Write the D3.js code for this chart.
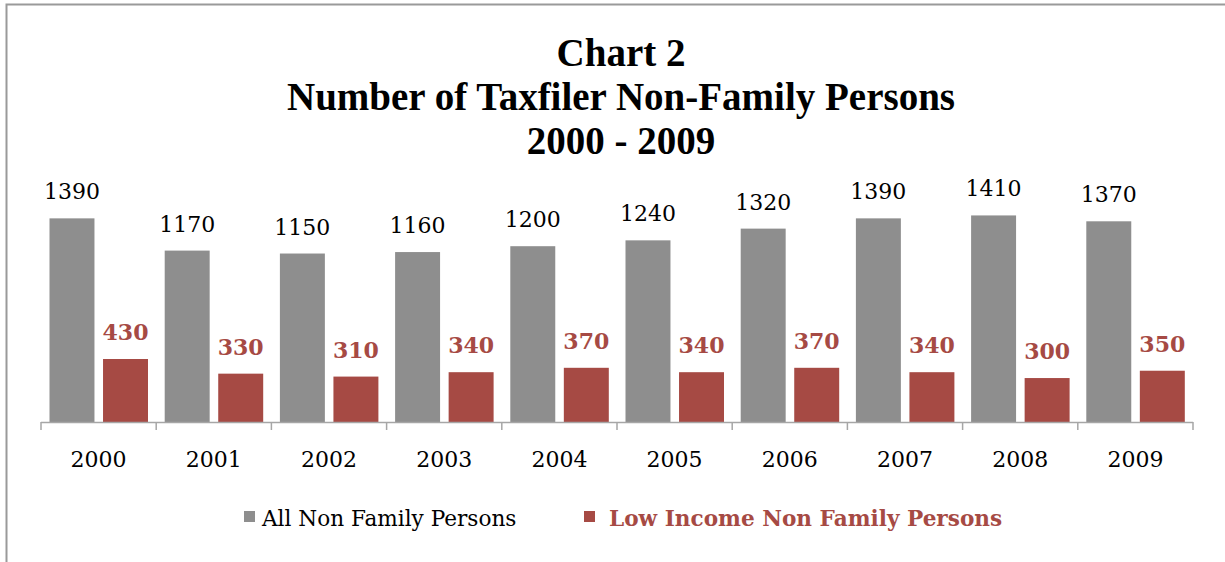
<!DOCTYPE html>
<html>
<head>
    <style>
        body { margin: 0; background: #fff; }
        .title { font: bold 39px "Liberation Serif", serif; text-anchor: middle; }
        .lbl { font: 22px "DejaVu Serif", serif; text-anchor: middle; }
        .axis text { font: 22px "DejaVu Serif", serif; fill: #000; }
        .legend text { font: 21.6px "DejaVu Serif", serif; }
    </style>
    <script src="https://d3js.org/d3.v7.min.js"></script>
</head>
<body>
    <svg width="1225" height="562"></svg>
    <script>
        var years = ["2000", "2001", "2002", "2003", "2004", "2005", "2006", "2007", "2008", "2009"];
        var allPersons = [1390, 1170, 1150, 1160, 1200, 1240, 1320, 1390, 1410, 1370];
        var lowIncome = [430, 330, 310, 340, 370, 340, 370, 340, 300, 350];
        var seriesNames = ["All Non Family Persons", "Low Income Non Family Persons"];
        var titleLines = ["Chart 2", "Number of Taxfiler Non-Family Persons", "2000 - 2009"];

        var colors = ["#8e8e8e", "#a64a44"];

        var svg = d3.select("svg");

        // chart frame
        svg.append("rect")
           .attr("x", 6.5).attr("y", 4.5)
           .attr("width", 1240).attr("height", 600)
           .attr("fill", "none").attr("stroke", "#9a9a9a").attr("stroke-width", 2);

        svg.selectAll(".title")
           .data(titleLines)
           .enter().append("text")
           .attr("class", "title")
           .attr("x", 621)
           .attr("y", function(d, i) { return 66 + i * 44; })
           .text(function(d) { return d; });

        var rows = years.map(function(y, i) {
            return { year: y, values: [allPersons[i], lowIncome[i]] };
        });

        var x0 = d3.scaleBand().domain(years).range([41, 1193]);
        var x1 = d3.scaleBand().domain([0, 1]).range([8.5, 107]).paddingInner(0.16);
        var y = d3.scaleLinear().domain([0, 1600]).range([422, 187.6]);

        var grp = svg.selectAll(".year")
                     .data(rows)
                     .enter().append("g")
                     .attr("class", "year")
                     .attr("transform", function(d) { return "translate(" + x0(d.year) + ",0)"; });

        var cells = grp.selectAll(".cell")
                       .data(function(d) { return d.values; })
                       .enter().append("g");

        cells.append("rect")
             .attr("x", function(d, i) { return x1(i); })
             .attr("y", function(d) { return y(d); })
             .attr("width", x1.bandwidth())
             .attr("height", function(d) { return y(0) - y(d); })
             .attr("fill", function(d, i) { return colors[i]; });

        cells.append("text")
             .attr("class", "lbl")
             .attr("x", function(d, i) { return x1(i) + x1.bandwidth() / 2; })
             .attr("y", function(d) { return y(d) - 19; })
             .attr("fill", function(d, i) { return i ? colors[1] : "#000"; })
             .style("font-weight", function(d, i) { return i ? "bold" : "normal"; })
             .text(function(d) { return d; });

        // category axis with ticks between bands
        var axis = svg.append("g").attr("class", "axis");
        axis.append("line")
            .attr("x1", 41).attr("x2", 1193)
            .attr("y1", 422.5).attr("y2", 422.5)
            .attr("stroke", "#a6a6a6").attr("stroke-width", 1.5);
        axis.selectAll(".tick")
            .data(years.concat(["end"]))
            .enter().append("line")
            .attr("x1", function(d, i) { return 41 + i * x0.step(); })
            .attr("x2", function(d, i) { return 41 + i * x0.step(); })
            .attr("y1", 422).attr("y2", 430)
            .attr("stroke", "#a6a6a6").attr("stroke-width", 1.5);
        axis.selectAll(".yr")
            .data(years)
            .enter().append("text")
            .attr("x", function(d) { return x0(d) + x0.bandwidth() / 2; })
            .attr("y", 467)
            .attr("text-anchor", "middle")
            .text(function(d) { return d; });

        // legend
        var legX = [244, 584];
        var leg = svg.selectAll(".legend")
                     .data(seriesNames)
                     .enter().append("g")
                     .attr("class", "legend")
                     .attr("transform", function(d, i) { return "translate(" + legX[i] + ",0)"; });
        leg.append("rect")
           .attr("x", 0).attr("y", 511)
           .attr("width", 11).attr("height", 11)
           .attr("fill", function(d, i) { return colors[i]; });
        leg.append("text")
           .attr("x", function(d, i) { return i ? 25 : 18; })
           .attr("y", 526)
           .attr("fill", function(d, i) { return i ? colors[1] : "#000"; })
           .style("font-weight", function(d, i) { return i ? "bold" : "normal"; })
           .text(function(d) { return d; });
    </script>
</body>
</html>
